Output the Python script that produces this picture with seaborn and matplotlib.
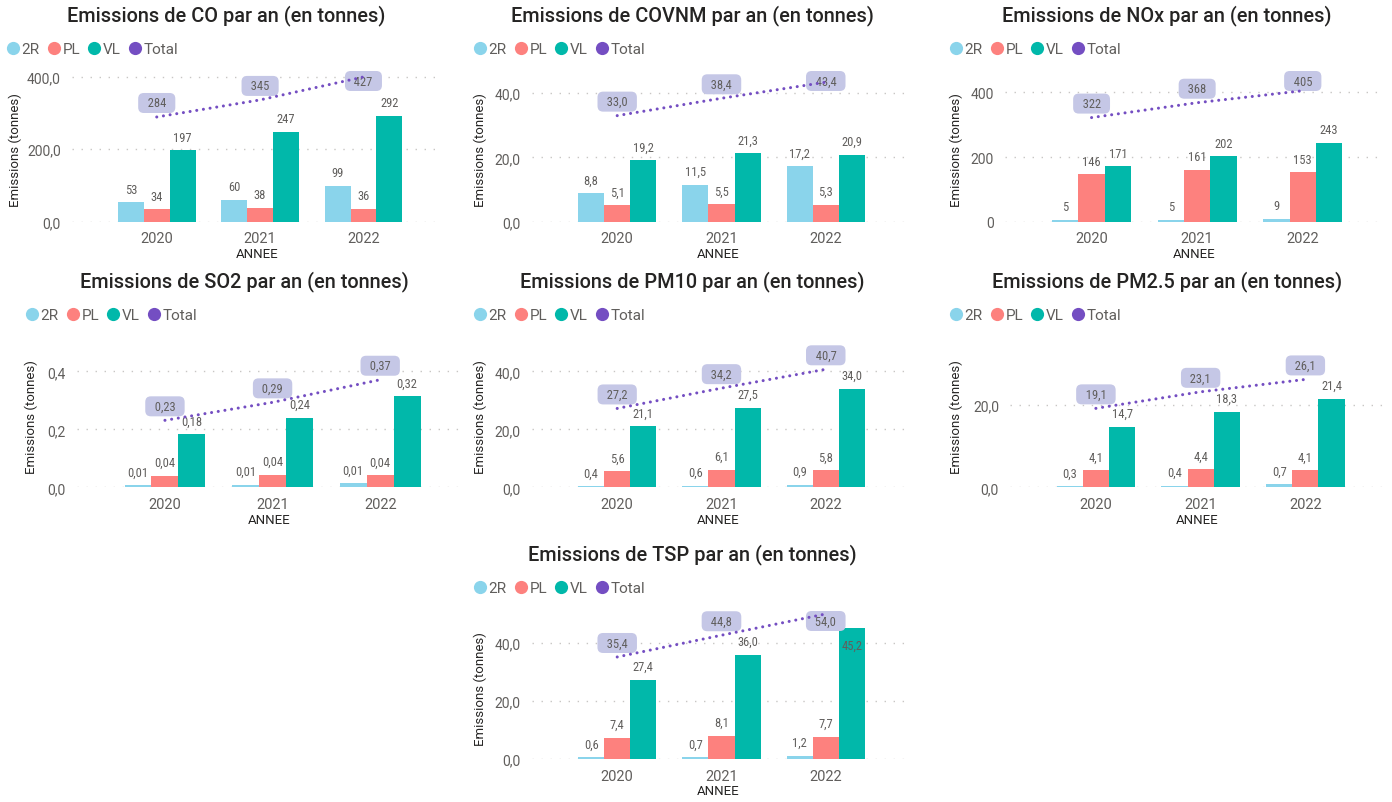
import numpy as np
import pandas as pd
import matplotlib
matplotlib.use("Agg")
import matplotlib.pyplot as plt
import seaborn as sns
from matplotlib.lines import Line2D

# ---------------- data ----------------
years = ["2020", "2021", "2022"]
types = ["2R", "PL", "VL"]

co_2r = [53, 60, 99]
co_pl = [34, 38, 36]
co_vl = [197, 247, 292]
co_total = [284, 345, 427]

covnm_2r = [8.8, 11.5, 17.2]
covnm_pl = [5.1, 5.5, 5.3]
covnm_vl = [19.2, 21.3, 20.9]
covnm_total = [33.0, 38.4, 43.4]

nox_2r = [5, 5, 9]
nox_pl = [146, 161, 153]
nox_vl = [171, 202, 243]
nox_total = [322, 368, 405]

so2_2r = [0.008, 0.009, 0.014]
so2_pl = [0.040, 0.044, 0.042]
so2_vl = [0.183, 0.240, 0.315]
so2_total = [0.231, 0.293, 0.371]

pm10_2r = [0.4, 0.6, 0.9]
pm10_pl = [5.6, 6.1, 5.8]
pm10_vl = [21.1, 27.5, 34.0]
pm10_total = [27.2, 34.2, 40.7]

pm25_2r = [0.3, 0.4, 0.7]
pm25_pl = [4.1, 4.4, 4.1]
pm25_vl = [14.7, 18.3, 21.4]
pm25_total = [19.1, 23.1, 26.1]

tsp_2r = [0.6, 0.7, 1.2]
tsp_pl = [7.4, 8.1, 7.7]
tsp_vl = [27.4, 36.0, 45.2]
tsp_total = [35.4, 44.8, 54.0]

# ---------------- style ----------------
sns.set_theme(style="white")
plt.rcParams["font.family"] = ["Roboto", "DejaVu Sans"]

COLORS = {"2R": "#8AD4EB", "PL": "#FD817E", "VL": "#01B8AA"}
TOTAL_C = "#744EC2"
TXT = "#605E5C"
DARK = "#252423"
LABEL_FONT = ["Roboto Condensed", "Roboto", "DejaVu Sans"]

W, H = 1392, 803
PX_PER_PT = 100 / 72
fig = plt.figure(figsize=(W / 100, H / 100), dpi=100)
fig.patch.set_facecolor("white")


def fmt(v, d):
    return f"{v:.{d}f}".replace(".", ",")


panels = [
    dict(name="CO", r2=co_2r, pl=co_pl, vl=co_vl, tot=co_total,
         rect=(72, 442, 222.7, 62), ymax=443, ticks=[0, 200, 400], td=1, ld=0,
         title=(226, 16), leg=(7, 50), ylab_x=15, line_lim=(-90, 484)),
    dict(name="COVNM", r2=covnm_2r, pl=covnm_pl, vl=covnm_vl, tot=covnm_total,
         rect=(531.7, 905, 222.7, 62), ymax=50, ticks=[0, 20, 40], td=1, ld=1,
         title=(692, 16), leg=(474, 50), ylab_x=480.5, line_lim=None),
    dict(name="NOx", r2=nox_2r, pl=nox_pl, vl=nox_vl, tot=nox_total,
         rect=(1005, 1383, 222.7, 62), ymax=497, ticks=[0, 200, 400], td=0, ld=0,
         title=(1167, 16), leg=(950, 50), ylab_x=956.5, line_lim=None),
    dict(name="SO2", r2=so2_2r, pl=so2_pl, vl=so2_vl, tot=so2_total,
         rect=(76.7, 462, 488.3, 330), ymax=0.546, ticks=[0, 0.2, 0.4], td=1, ld=2,
         title=(244, 282), leg=(26, 316), ylab_x=31.5, line_lim=None),
    dict(name="PM10", r2=pm10_2r, pl=pm10_pl, vl=pm10_vl, tot=pm10_total,
         rect=(531.7, 905, 488.3, 330), ymax=54.6, ticks=[0, 20, 40], td=1, ld=1,
         title=(692, 282), leg=(474, 316), ylab_x=480.5, line_lim=None),
    dict(name="PM2.5", r2=pm25_2r, pl=pm25_pl, vl=pm25_vl, tot=pm25_total,
         rect=(1010, 1385, 488.3, 330), ymax=38.3, ticks=[0, 20], td=1, ld=1,
         title=(1167, 282), leg=(950, 316), ylab_x=956.5, line_lim=None),
    dict(name="TSP", r2=tsp_2r, pl=tsp_pl, vl=tsp_vl, tot=tsp_total,
         rect=(531.7, 905, 760, 602), ymax=54.6, ticks=[0, 20, 40], td=1, ld=1,
         title=(692, 555), leg=(474, 589), ylab_x=480.5, line_lim=(-8.7, 59.6)),
]

for p in panels:
    L, R, B, T = p["rect"]
    hpx = B - T
    ax = fig.add_axes([L / W, 1 - B / H, (R - L) / W, hpx / H])
    df = pd.DataFrame({
        "ANNEE": years * 3,
        "Type": np.repeat(types, len(years)),
        "Emissions": list(p["r2"]) + list(p["pl"]) + list(p["vl"]),
    })
    sns.barplot(data=df, x="ANNEE", y="Emissions", hue="Type", order=years,
                hue_order=types, palette=COLORS, width=0.75, gap=0, saturation=1,
                errorbar=None, legend=False, ax=ax, zorder=2, linewidth=0)

    ymax = p["ymax"]
    ax.set_xlim(-0.82, 2.76)
    ax.set_ylim(0, ymax)

    # bar value labels
    for cont in ax.containers:
        for bar in cont:
            h = bar.get_height()
            inside = h > 0.75 * ymax
            ax.annotate(fmt(h, p["ld"]), (bar.get_x() + bar.get_width() / 2, h),
                        xytext=(0, -12 if inside else 9.5), textcoords="offset points",
                        ha="center", va="center", fontsize=9, color=TXT,
                        family=LABEL_FONT, zorder=3)

    # total line (own scale when the reference shows it on a secondary scale)
    lax = ax
    lo, hi = 0, ymax
    if p["line_lim"] is not None:
        lax = ax.twinx()
        lo, hi = p["line_lim"]
        lax.set_ylim(lo, hi)
        lax.axis("off")
        lax.set_xlim(-0.82, 2.76)
    xs = np.arange(len(years))
    for xi, v in zip(xs, p["tot"]):
        dist_top_px = (hi - v) / (hi - lo) * hpx
        off_px = min(14.0, dist_top_px - 20.0)  # keep label box inside plot area
        lax.annotate("  " + fmt(v, p["ld"]) + "  ", (xi, v),
                     xytext=(0, off_px / PX_PER_PT),
                     textcoords="offset points", ha="center", va="center",
                     fontsize=9, color=TXT, family=LABEL_FONT, zorder=4,
                     annotation_clip=False,
                     bbox=dict(boxstyle="round,pad=0.28,rounding_size=0.45",
                               fc="#C5C7E6", ec="none"))
    lax.plot(xs, p["tot"], color=TOTAL_C, lw=2.2, linestyle=(0, (0.01, 2.2)),
             dash_capstyle="round", zorder=6, clip_on=False)

    # axes styling
    ax.set_yticks(p["ticks"])
    ax.set_yticklabels([fmt(t, p["td"]) for t in p["ticks"]])
    ax.tick_params(axis="y", length=0, pad=8, labelsize=10, labelcolor=TXT)
    ax.tick_params(axis="x", length=0, pad=7, labelsize=10.5, labelcolor=TXT)
    for s in ax.spines.values():
        s.set_visible(False)
    ax.grid(axis="y", linestyle=(0, (1, 5.5)), color="#C8C6C4", lw=1)
    ax.grid(axis="x", visible=False)
    ax.set_axisbelow(True)
    ax.set_xlabel("ANNEE", fontsize=9.5, color=DARK, va="center")
    ax.xaxis.set_label_coords(0.5, -32 / hpx)
    ax.set_ylabel("Emissions (tonnes)", fontsize=9.5, color=DARK, va="center")
    ax.yaxis.set_label_coords((p["ylab_x"] - L) / (R - L), 0.45)

    # title
    fig.text(p["title"][0] / W, 1 - p["title"][1] / H,
             f"Emissions de {p['name']} par an (en tonnes)",
             ha="center", va="center", fontsize=14.3, color=DARK,
             fontweight="medium")

    # legend
    handles = [Line2D([], [], marker="o", ls="", markersize=9.5, color=COLORS[t],
                      markeredgewidth=0) for t in types]
    handles.append(Line2D([], [], marker="o", ls="", markersize=9.5, color=TOTAL_C,
                          markeredgewidth=0))
    fig.legend(handles, types + ["Total"], loc="center left",
               bbox_to_anchor=(p["leg"][0] / W, 1 - p["leg"][1] / H), ncol=4,
               frameon=False, handlelength=0.75, handletextpad=0.2,
               columnspacing=0.55, borderpad=0, borderaxespad=0, fontsize=11,
               labelcolor=TXT)

fig.savefig("out.png", dpi=100, facecolor="white")
